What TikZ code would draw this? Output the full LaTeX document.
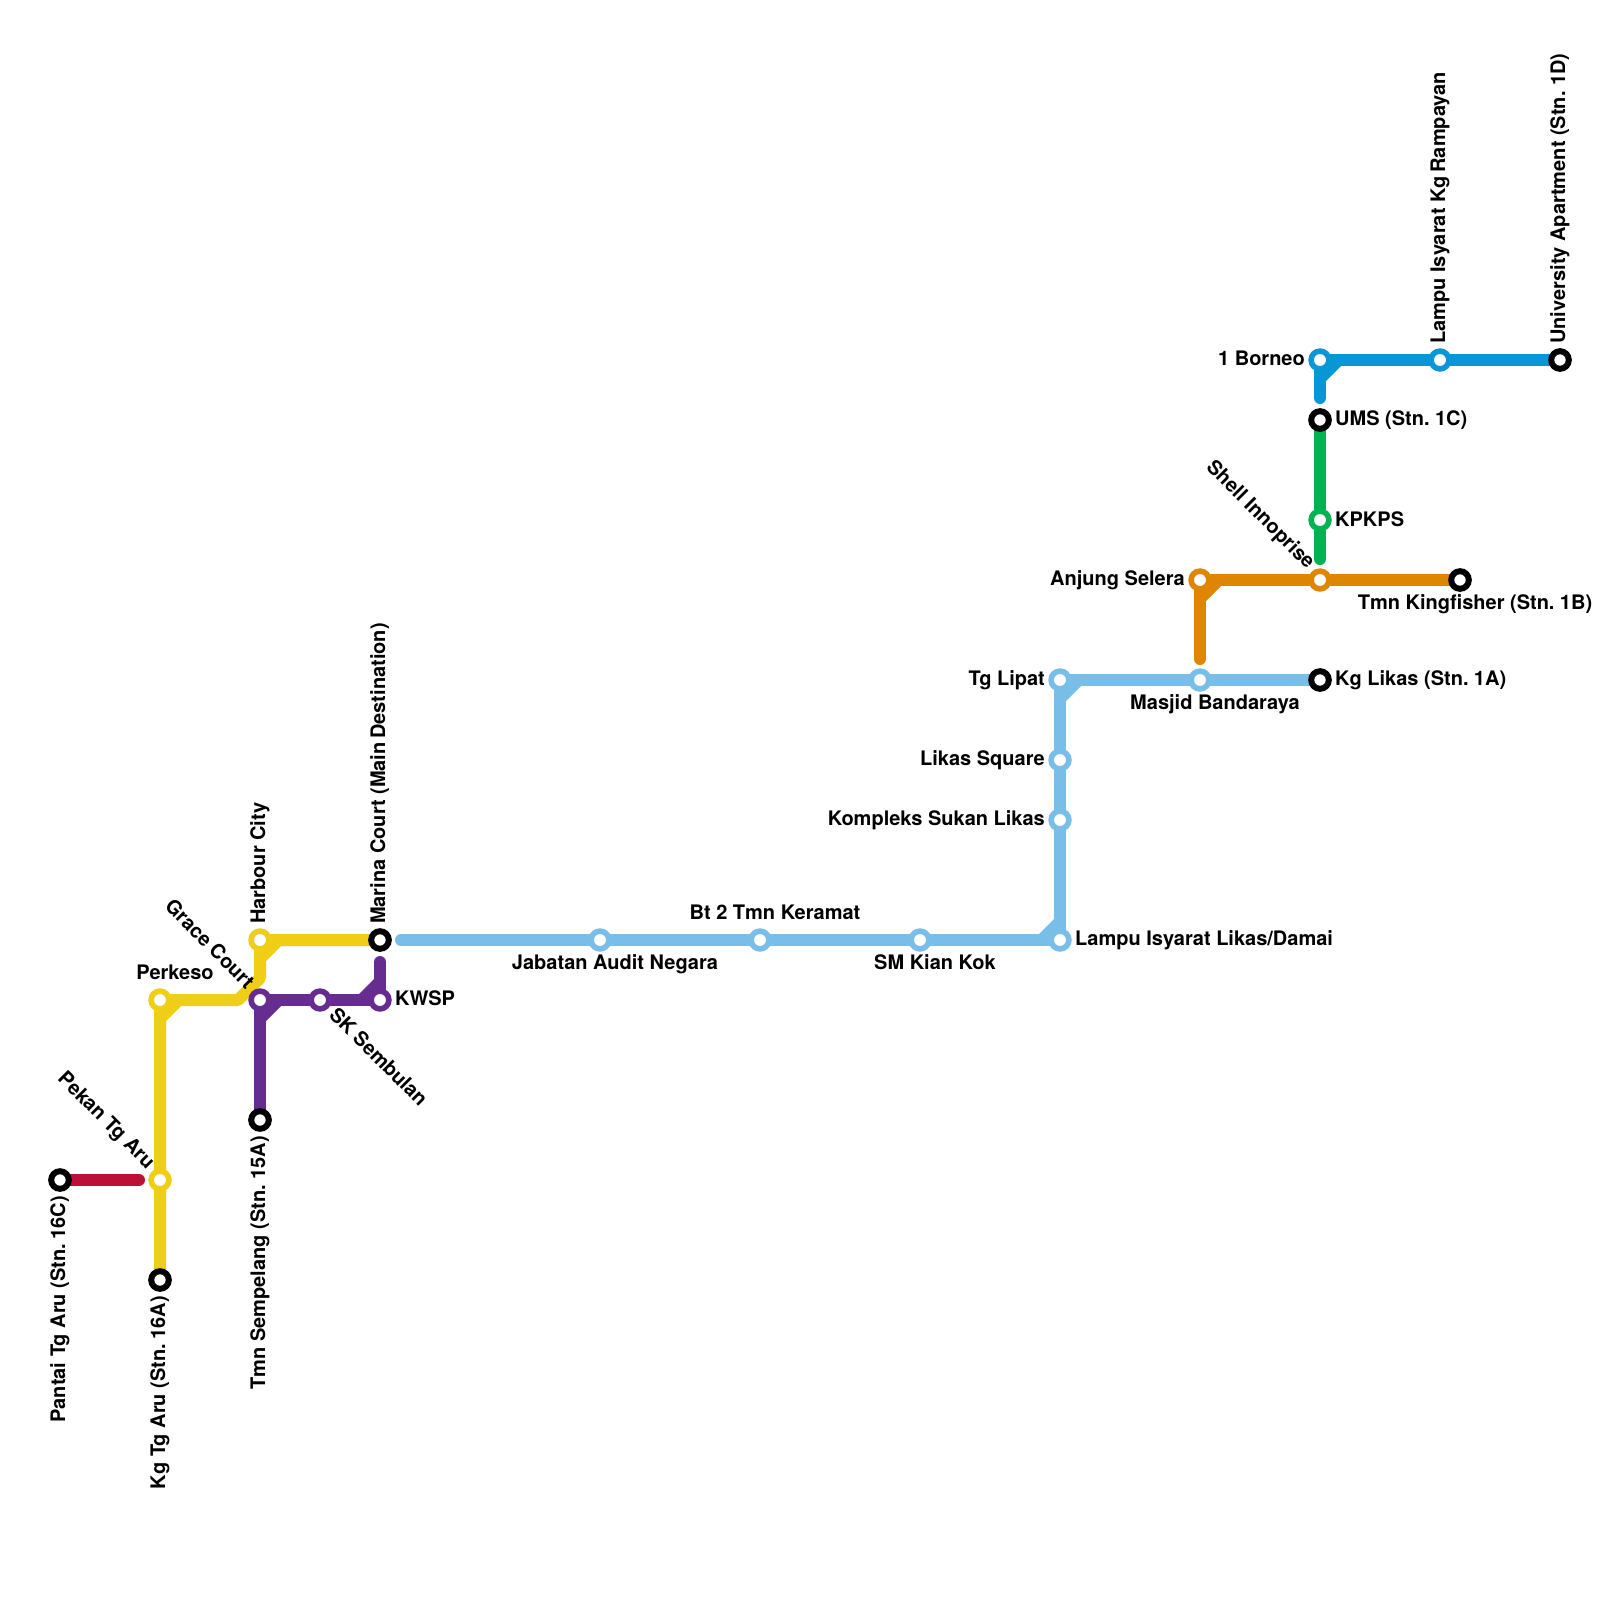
\documentclass[tikz,border=0pt]{standalone}
\usepackage{fontspec}
\setmainfont{TeX Gyre Heros}
\usetikzlibrary{backgrounds}
\definecolor{cyel}{HTML}{F0CE15}
\definecolor{cpur}{HTML}{662C90}
\definecolor{cred}{HTML}{BD1038}
\definecolor{clbl}{HTML}{79BDE9}
\definecolor{cblu}{HTML}{0896D7}
\definecolor{cgrn}{HTML}{00B251}
\definecolor{cora}{HTML}{DF8600}
\tikzset{
  stn/.style={circle,fill=white,draw=#1,line width=5.6pt,minimum size=17.8pt,inner sep=0pt},
  term/.style={circle,fill=white,draw=black,line width=6pt,minimum size=17.6pt,inner sep=0pt},
  rail/.style={draw=#1,line width=12pt,line cap=round,line join=round},
  lab/.style={font=\bfseries\fontsize{20}{20}\selectfont,inner sep=0pt,text=black},
  lw/.style={lab,anchor=base west},
  le/.style={lab,anchor=base east},
  lc/.style={lab,anchor=base},
  upw/.style={lab,anchor=base west,rotate=90},
  upe/.style={lab,anchor=base east,rotate=90},
  dge/.style={lab,anchor=base east,rotate=-45},
  dgw/.style={lab,anchor=base west,rotate=-45},
}
\begin{document}
\begin{tikzpicture}[x=1pt,y=-1pt]
\useasboundingbox (0,0) rectangle (1600,1600);
% stations
\node[term] (pantai) at (60,1180) {};
\node[stn=cyel] (pekan) at (160,1180) {};
\node[term] (kgtg) at (160,1280) {};
\node[stn=cyel] (perkeso) at (160,1000) {};
\node[stn=cyel] (harbour) at (260,940) {};
\node[term] (marina) at (380,940) {};
\node[stn=cpur] (grace) at (260,1000) {};
\node[stn=cpur] (sk) at (320,1000) {};
\node[stn=cpur] (kwsp) at (380,1000) {};
\node[term] (sempelang) at (260,1120) {};
\node[stn=clbl] (jabatan) at (600,940) {};
\node[stn=clbl] (bt) at (760,940) {};
\node[stn=clbl] (kian) at (920,940) {};
\node[stn=clbl] (damai) at (1060,940) {};
\node[stn=clbl] (kompleks) at (1060,820) {};
\node[stn=clbl] (likas) at (1060,760) {};
\node[stn=clbl] (lipat) at (1060,680) {};
\node[stn=clbl] (masjid) at (1200,680) {};
\node[term] (kglikas) at (1320,680) {};
\node[stn=cora] (anjung) at (1200,580) {};
\node[stn=cora] (shell) at (1320,580) {};
\node[term] (king) at (1460,580) {};
\node[stn=cgrn] (kpkps) at (1320,520) {};
\node[term] (ums) at (1320,420) {};
\node[stn=cblu] (borneo) at (1320,360) {};
\node[stn=cblu] (rampayan) at (1440,360) {};
\node[term] (univ) at (1560,360) {};
% free ends and bends
\coordinate (redend) at (139,1180);
\coordinate (yb1) at (260,978);
\coordinate (yb2) at (238,1000);
\coordinate (purtop) at (380,962);
\coordinate (lblstart) at (401,940);
\coordinate (oraend) at (1200,659);
\coordinate (grnend) at (1320,559);
\coordinate (bluend) at (1320,398);
\begin{scope}[on background layer]
\fill[white] (0,0) rectangle (1600,1600);
\draw[rail=cred] (pantai.center) -- (redend);
\draw[rail=cyel] (kgtg.center) -- (perkeso.center) -- (yb2) -- (yb1) -- (harbour.center) -- (marina.center);
\fill[cyel] (perkeso.center) -- ++(0,27) -- ++(27,-27) -- cycle;
\fill[cyel] (harbour.center) -- ++(0,27) -- ++(27,-27) -- cycle;
\draw[rail=cpur] (sempelang.center) -- (grace.center) -- (kwsp.center) -- (purtop);
\fill[cpur] (grace.center) -- ++(0,27) -- ++(27,-27) -- cycle;
\fill[cpur] (kwsp.center) -- ++(0,-27) -- ++(-27,27) -- cycle;
\draw[rail=clbl] (lblstart) -- (damai.center) -- (lipat.center) -- (kglikas.center);
\fill[clbl] (damai.center) -- ++(0,-27) -- ++(-27,27) -- cycle;
\fill[clbl] (lipat.center) -- ++(0,27) -- ++(27,-27) -- cycle;
\draw[rail=cora] (oraend) -- (anjung.center) -- (king.center);
\fill[cora] (anjung.center) -- ++(0,27) -- ++(27,-27) -- cycle;
\draw[rail=cgrn] (ums.center) -- (grnend);
\draw[rail=cblu] (bluend) -- (borneo.center) -- (univ.center);
\fill[cblu] (borneo.center) -- ++(0,27) -- ++(27,-27) -- cycle;
\end{scope}
% labels
\node[upe] (l-pantai) at (65,1196) {Pantai Tg Aru (Stn.\kern-3pt{} 16C)};
\node[dge] (l-pekan) at (147,1170) {Pekan Tg Aru};
\node[upe] (l-kgtg) at (165,1296) {Kg Tg Aru (Stn.\kern-3pt{} 16A)};
\node[lc] (l-perkeso) at (175,979) {Perkeso};
\node[upw] (l-harbour) at (265,924) {Harbour City};
\node[dge] (l-grace) at (246,990) {Grace Court};
\node[upw] (l-marina) at (385,924) {Marina Court (Main\kern-2pt{} Destination)};
\node[dgw] (l-sk) at (328,1016) {SK Sembulan};
\node[lw] (l-kwsp) at (395,1005) {KWSP};
\node[upe] (l-semp) at (265,1136) {Tmn Sempelang (Stn.\kern-2pt{} 15A)};
\node[lc] (l-jab) at (615,969) {Jabatan Audit Negara};
\node[lc] (l-bt) at (775,919) {Bt 2 Tmn Keramat};
\node[lc] (l-kian) at (935,969) {SM Kian Kok};
\node[lw] (l-damai) at (1075,945) {Lampu Isyarat Likas/Damai};
\node[le] (l-komp) at (1045,825) {Kompleks Sukan Likas};
\node[le] (l-likas) at (1045,765) {Likas Square};
\node[le] (l-lipat) at (1045,685) {Tg Lipat};
\node[lc] (l-masjid) at (1215,709) {Masjid Bandaraya};
\node[lw] (l-kglikas) at (1335,685) {Kg Likas (Stn.\kern-2pt{} 1A)};
\node[le] (l-anjung) at (1185,585) {Anjung Selera};
\node[dge] (l-shell) at (1307,570) {Shell Innoprise};
\node[lc] (l-king) at (1475,609) {Tmn Kingfisher (Stn.\kern-2pt{} 1B)};
\node[lw] (l-kpkps) at (1335,526) {KPKPS};
\node[lw] (l-ums) at (1335,425) {UMS (Stn.\kern-2pt{} 1C)};
\node[le] (l-borneo) at (1305,365) {1 Borneo};
\node[upw] (l-ramp) at (1445,344) {Lampu Isyarat Kg\kern-2pt{} Rampayan};
\node[upw] (l-univ) at (1565,344) {University Apartment (Stn.\kern-2pt{} 1D)};
\end{tikzpicture}
\end{document}
